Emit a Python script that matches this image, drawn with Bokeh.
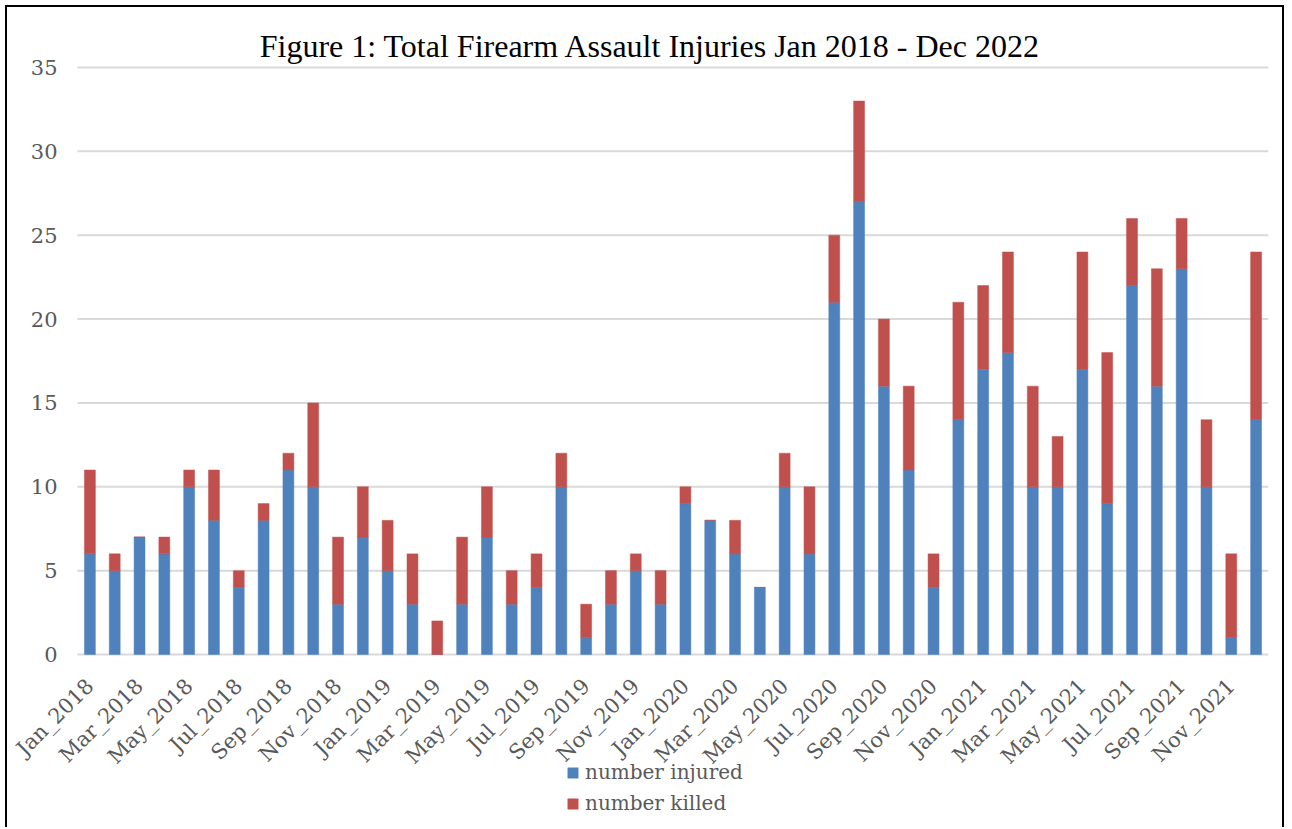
from math import pi

from bokeh.core.properties import value
from bokeh.embed import file_html
from bokeh.models import ColumnDataSource, Legend, LegendItem
from bokeh.plotting import figure
from bokeh.resources import INLINE

# Monthly counts, Jan 2018 - Dec 2021
month_names = ["Jan", "Feb", "Mar", "Apr", "May", "Jun",
               "Jul", "Aug", "Sep", "Oct", "Nov", "Dec"]
years = [2018, 2019, 2020, 2021]
months = [f"{m}_{y}" for y in years for m in month_names]

injured = [6, 5, 7, 6, 10, 8, 4, 8, 11, 10, 3, 7,
           5, 3, 0, 3, 7, 3, 4, 10, 1, 3, 5, 3,
           9, 8, 6, 4, 10, 6, 21, 27, 16, 11, 4, 14,
           17, 18, 10, 10, 17, 9, 22, 16, 23, 10, 1, 14]
killed = [5, 1, 0, 1, 1, 3, 1, 1, 1, 5, 4, 3,
          3, 3, 2, 4, 3, 2, 2, 2, 2, 2, 1, 2,
          1, 0, 2, 0, 2, 4, 4, 6, 4, 5, 2, 7,
          5, 6, 6, 3, 7, 9, 4, 7, 3, 4, 5, 10]

y_ticks = [0, 5, 10, 15, 20, 25, 30, 35]
tick_pos = list(range(0, len(months), 2))   # every other month is labelled
tick_labels = [months[i] for i in tick_pos]
title_text = "Figure 1: Total Firearm Assault Injuries Jan 2018 - Dec 2022"

BLUE = "#4F81BD"
RED = "#C0504D"
TEXT = "#595959"
GRID = "#D9D9D9"
SERIF = "DejaVu Serif"

# plot area: 48 month slots of ~24.8 px, 587 px for 0..35.  The drawing frame
# is larger than the plot area so the title, axis labels and legend (drawn as
# glyphs and annotations) all stay inside it.
PX_PER_SLOT = 1191 / 48
PX_PER_UNIT = 587 / 35
LEFT_PAD = 67            # px between frame edge and plot area, left
TOP_PAD = 58             # px between frame edge and plot area, top
FRAME_H = 820
y_max = 35
x_lo, x_hi = -0.5, len(months) - 0.5
x_start = x_lo - LEFT_PAD / PX_PER_SLOT
y_end = y_max + TOP_PAD / PX_PER_UNIT
y_start = y_end - FRAME_H / PX_PER_UNIT

# title anchor: centre of the chart, text middle 22 px above the top gridline
title_x = (x_start + x_hi) / 2 + 11 / PX_PER_SLOT
title_y = y_max + 22 / PX_PER_UNIT

src = ColumnDataSource(dict(x=list(range(len(months))), injured=injured, killed=killed))
xlab = ColumnDataSource(dict(x=tick_pos, y=[0] * len(tick_pos), text=tick_labels))
ylab = ColumnDataSource(dict(x=[x_lo] * len(y_ticks), y=y_ticks,
                             text=[str(v) for v in y_ticks]))
grid = ColumnDataSource(dict(x0=[x_lo] * len(y_ticks), x1=[x_hi] * len(y_ticks),
                             y=y_ticks))

p = figure(
    width=1279, height=822,
    x_range=(x_start, x_hi), y_range=(y_start, y_end),
    x_axis_location=None, y_axis_location=None,
    output_backend="svg", toolbar_location=None,
    min_border_left=3, min_border_right=18, min_border_top=2, min_border_bottom=0,
)
p.styles = {
    "margin-left": "5px", "margin-top": "5px",
    "border-left": "2px solid #000", "border-top": "2px solid #000",
    "border-right": "2px solid #000",
}
p.outline_line_color = None
p.grid.visible = False

# chart title
p.text(x=[title_x], y=[title_y], text=[title_text],
       text_align="center", text_baseline="middle",
       text_font=value("Liberation Serif"), text_font_size="32px", text_color="#000000")

# horizontal gridlines; the one at 0 doubles as the category baseline
p.segment(x0="x0", x1="x1", y0="y", y1="y", source=grid,
          line_color=GRID, line_width=2)

bars = p.vbar_stack(["injured", "killed"], x="x", width=0.44, source=src,
                    fill_color=[BLUE, RED], line_color=[BLUE, RED], line_width=0.5)

# value labels left of the plot area
p.text(x="x", y="y", text="text", source=ylab,
       text_align="right", text_baseline="middle", x_offset=-20,
       text_font=value(SERIF), text_font_size="21px", text_color=TEXT)

# rotated month labels under the baseline
p.text(x="x", y="y", text="text", source=xlab, angle=pi / 4,
       text_align="right", text_baseline="middle", y_offset=28,
       text_font=value(SERIF), text_font_size="21px", text_color=TEXT)

legend = Legend(
    items=[LegendItem(label="number injured", renderers=[bars[0]]),
           LegendItem(label="number killed", renderers=[bars[1]])],
    location=(489 + LEFT_PAD, 14), orientation="vertical",
    glyph_width=13, glyph_height=13, label_height=20, label_standoff=6,
    spacing=7, padding=0, margin=0,
    border_line_color=None, background_fill_alpha=0,
    label_text_font=SERIF, label_text_font_size="20px", label_text_color=TEXT,
)
p.add_layout(legend, "center")

open("out.html", "w").write(file_html(p, INLINE))
